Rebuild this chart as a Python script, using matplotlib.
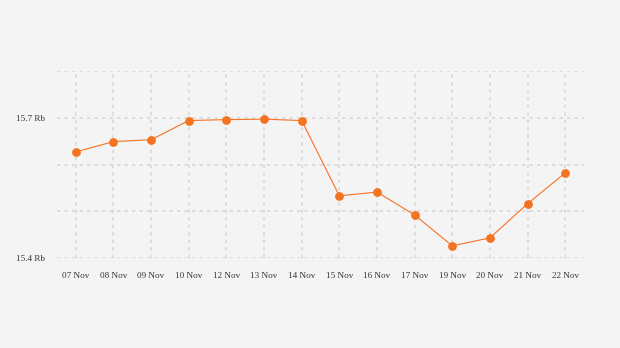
import matplotlib.pyplot as plt

dates = ["07 Nov", "08 Nov", "09 Nov", "10 Nov", "12 Nov", "13 Nov", "14 Nov",
         "15 Nov", "16 Nov", "17 Nov", "19 Nov", "20 Nov", "21 Nov", "22 Nov"]
values = [15.627, 15.649, 15.653, 15.694, 15.696, 15.697, 15.694,
          15.533, 15.541, 15.492, 15.426, 15.443, 15.516, 15.582]
y_grid = [15.4, 15.5, 15.6, 15.7, 15.8]
y_labels = {15.4: "15.4 Rb", 15.7: "15.7 Rb"}

bg = "#f4f4f4"
orange = "#f47321"

fig = plt.figure(figsize=(6.2, 3.48), dpi=100, facecolor=bg)
ax = fig.add_axes([57 / 620, 1 - 258 / 348, 527 / 620, 187 / 348], facecolor=bg)

x = range(len(dates))
ax.plot(x, values, color=orange, linewidth=0.8, marker="o", markersize=6.3,
        markeredgewidth=0, zorder=3)

ax.set_xlim(-0.5, len(dates) - 0.5)
ax.set_ylim(15.4, 15.8)
ax.set_xticks(list(x))
ax.set_xticklabels(dates)
ax.set_yticks(y_grid)
ax.set_yticklabels([y_labels.get(v, "") for v in y_grid])

ax.grid(True, color="#d8d8d8", linestyle=(0, (2, 2.5)), linewidth=1.2, zorder=0)
for s in ax.spines.values():
    s.set_visible(False)
ax.tick_params(length=0, labelsize=6.6, colors="#333333")
ax.tick_params(axis="x", pad=10)
ax.tick_params(axis="y", pad=9)
for lbl in ax.get_xticklabels() + ax.get_yticklabels():
    lbl.set_family("Liberation Serif")

fig.savefig("out.png", dpi=100, facecolor=bg)
